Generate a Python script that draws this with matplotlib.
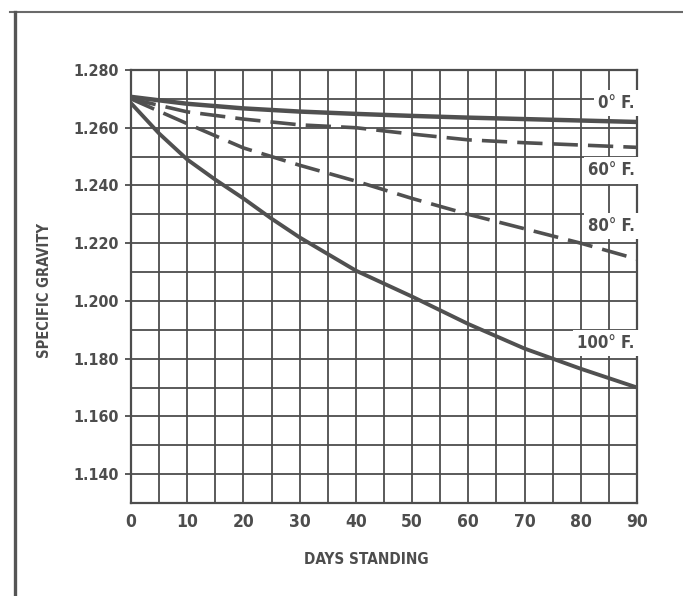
import numpy as np
import matplotlib
matplotlib.use("Agg")
import matplotlib.pyplot as plt
from matplotlib.lines import Line2D

plt.rcParams['font.family'] = ['DejaVu Sans']
plt.rcParams['font.stretch'] = 'condensed'

# ---- data ----
days = [0, 10, 20, 30, 40, 50, 60, 70, 80, 90]
sg_0F = [1.2707, 1.2683, 1.2667, 1.2656, 1.2648, 1.2641, 1.2635, 1.2630, 1.2625, 1.2620]
sg_60F = [1.2700, 1.2655, 1.2630, 1.2610, 1.2600, 1.2578, 1.2558, 1.2548, 1.2540, 1.2532]
sg_80F = [1.2700, 1.2614, 1.2530, 1.2470, 1.2415, 1.2355, 1.2300, 1.2250, 1.2200, 1.2145]
days_100 = [0, 5, 10, 15, 20, 25, 30, 40, 50, 60, 70, 80, 90]
sg_100F = [1.2685, 1.2580, 1.2490, 1.2420, 1.2355, 1.2285, 1.2220, 1.2105, 1.2015,
           1.1920, 1.1835, 1.1765, 1.1700]

x_ticks = [0, 10, 20, 30, 40, 50, 60, 70, 80, 90]
y_ticks = [1.140, 1.160, 1.180, 1.200, 1.220, 1.240, 1.260, 1.280]
y_tick_labels = ["1.140", "1.160", "1.180", "1.200", "1.220", "1.240", "1.260", "1.280"]

series_labels = ["0° F.", "60° F.", "80° F.", "100° F."]
label_y = [1.2685, 1.2452, 1.2260, 1.1855]

ink = "#4d4d4d"
line_col = "#505050"

fig = plt.figure(figsize=(6.83, 5.96), dpi=100)
fig.patch.set_facecolor("white")

ax = fig.add_axes([131/683, 1-503/596, (637-131)/683, (503-70)/596])
ax.set_xlim(0, 90)
ax.set_ylim(1.130, 1.280)

# grid
ax.set_xticks(x_ticks)
ax.set_xticks(np.arange(5, 90, 10), minor=True)
ax.set_yticks(y_ticks)
ax.set_yticklabels(y_tick_labels)
ax.set_yticks(np.arange(1.130, 1.2801, 0.020), minor=True)
ax.grid(True, which="both", color=ink, linewidth=1.3, zorder=0.5)
ax.set_axisbelow(True)
for s in ax.spines.values():
    s.set_color(ink)
    s.set_linewidth(1.6)

ax.tick_params(axis="x", which="both", length=0, pad=7, labelsize=12.5, labelcolor=ink)
ax.tick_params(axis="y", which="major", length=4, width=1.3, color=ink, pad=5,
               labelsize=11.5, labelcolor=ink)
ax.tick_params(axis="y", which="minor", length=0)
for lab in ax.get_xticklabels() + ax.get_yticklabels():
    lab.set_fontweight("bold")

# curves
ax.plot(days, sg_0F, color=line_col, lw=3.2, solid_capstyle="butt", zorder=3)
ax.plot(days, sg_60F, color=line_col, lw=2.6, linestyle=(0, (7, 2.8)), zorder=3)
ax.plot(days, sg_80F, color=line_col, lw=2.6, linestyle=(0, (7, 2.8)), zorder=3)
ax.plot(days_100, sg_100F, color=line_col, lw=2.8, solid_capstyle="butt", zorder=3)

# curve labels with white boxes hiding the grid
for txt, yv in zip(series_labels, label_y):
    ax.text(89.6, yv, txt, ha="right", va="center", fontsize=12, fontweight="bold",
            color=ink, zorder=4,
            bbox=dict(boxstyle="square,pad=0.25", facecolor="white", edgecolor="none"))

# axis titles
fig.text(45/683, 1-290/596, "SPECIFIC GRAVITY", rotation=90, ha="center", va="center",
         fontsize=10.5, fontweight="bold", color=ink)
fig.text(366/683, 1-560/596, "DAYS STANDING", ha="center", va="center",
         fontsize=11, fontweight="bold", color=ink)

# scanned page frame
fig.add_artist(Line2D([10/683, 1.0], [1-12/596, 1-12/596], transform=fig.transFigure,
                      color="#6a6a6a", lw=1.5))
fig.add_artist(Line2D([15/683, 15/683], [0, 1-12/596], transform=fig.transFigure,
                      color="#555555", lw=2.4))

fig.savefig("out.png", dpi=100, facecolor="white")
